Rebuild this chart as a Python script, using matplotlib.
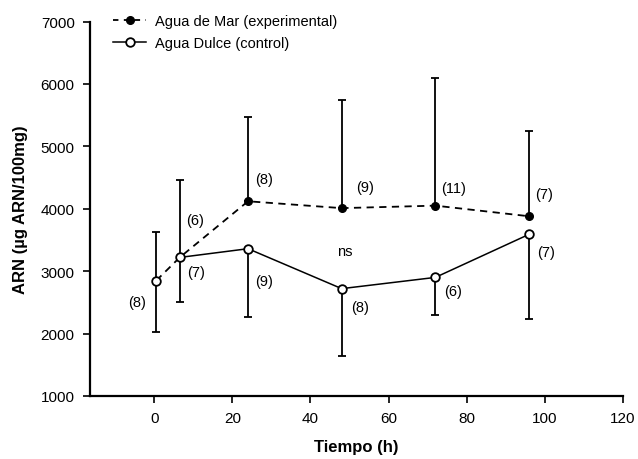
import matplotlib
matplotlib.use("Agg")
from matplotlib import pyplot as plt

plt.rcParams['font.family'] = ['Liberation Sans', 'DejaVu Sans']

# tiempos de muestreo (h)
tiempo = [0.5, 6.5, 24, 48, 72, 96]

# agua de mar (experimental): media y extremo superior de la barra
mar = [2850, 3220, 4120, 4010, 4050, 3880]
mar_sup = [3630, 4460, 5470, 5740, 6090, 5240]
mar_n = ["(8)", "(6)", "(8)", "(9)", "(11)", "(7)"]

# agua dulce (control): media y extremo inferior de la barra
dulce = [2850, 3220, 3360, 2720, 2900, 3590]
dulce_inf = [2020, 2500, 2260, 1640, 2290, 2240]
dulce_n = ["", "(7)", "(9)", "(8)", "(6)", "(7)"]

# desplazamiento de las etiquetas n (pixeles)
mar_off = [(-19, -21), (15, 37), (16, 22), (23, 21), (18, 18), (15, 22)]
dulce_off = [(0, 0), (16, -15), (16, -32), (18, -18), (18, -14), (17, -18)]

fig = plt.figure(figsize=(6.38, 4.6), dpi=100)
ax = fig.add_axes([0.141, 0.137, 0.835, 0.814])

# barras de error
up = [s - m for s, m in zip(mar_sup, mar)]
down = [m - i for m, i in zip(dulce, dulce_inf)]
ax.errorbar(tiempo, mar, yerr=[[0] * len(up), up], fmt='none', ecolor='black',
            elinewidth=1.3, capsize=2.6, capthick=1.3, zorder=2)
ax.errorbar(tiempo, dulce, yerr=[down, [0] * len(down)], fmt='none', ecolor='black',
            elinewidth=1.3, capsize=2.6, capthick=1.3, zorder=2)

# lineas
ax.plot(tiempo, mar, color='black', ls=(0, (4, 3)), lw=1.3, zorder=3)
ax.plot(tiempo[2:], mar[2:], 'o', color='black', ms=5.5, zorder=4)
ax.plot(tiempo[1:], dulce[1:], '-', color='black', lw=1.1, zorder=3)
ax.plot(tiempo, dulce, 'o', ls='none', mfc='white', mec='black', mew=1.3, ms=6.2, zorder=5)

# leyenda
h1, = ax.plot([], [], color='black', ls=(0, (3, 3)), lw=1.3, marker='o', ms=5.5)
h2, = ax.plot([], [], color='black', ls='-', lw=1.1, marker='o', mfc='white',
              mec='black', mew=1.3, ms=6.2)
ax.legend([h1, h2], ["Agua de Mar (experimental)", "Agua Dulce (control)"],
          loc='upper left', bbox_to_anchor=(0.032, 1.036), frameon=False,
          fontsize=10.5, handlelength=2.3, handletextpad=0.6, labelspacing=0.55,
          borderaxespad=0)

# etiquetas n
for x, y, t, o in zip(tiempo, mar, mar_n, mar_off):
    ax.annotate(t, (x, y), xytext=o, textcoords='offset pixels',
                ha='center', va='center', fontsize=10.5)
for x, y, t, o in zip(tiempo, dulce, dulce_n, dulce_off):
    if t:
        ax.annotate(t, (x, y), xytext=o, textcoords='offset pixels',
                    ha='center', va='center', fontsize=10.5)
ax.text(48.9, 3330, "ns", ha='center', va='center', fontsize=10.5)

ax.set_xlim(-16.5, 120)
ax.set_ylim(1000, 7000)
ax.set_xticks([0, 20, 40, 60, 80, 100, 120])
ax.set_yticks([1000, 2000, 3000, 4000, 5000, 6000, 7000])
ax.spines['top'].set_visible(False)
ax.spines['right'].set_visible(False)
ax.spines['left'].set_linewidth(1.6)
ax.spines['bottom'].set_linewidth(1.6)
ax.tick_params(direction='out', length=5, width=1.2, labelsize=11, pad=6)
ax.set_xlabel("Tiempo (h)", fontsize=12, fontweight='bold', labelpad=10)
ax.set_ylabel("ARN (µg ARN/100mg)", fontsize=12, fontweight='bold', labelpad=9)

fig.savefig("out.png", dpi=100)
